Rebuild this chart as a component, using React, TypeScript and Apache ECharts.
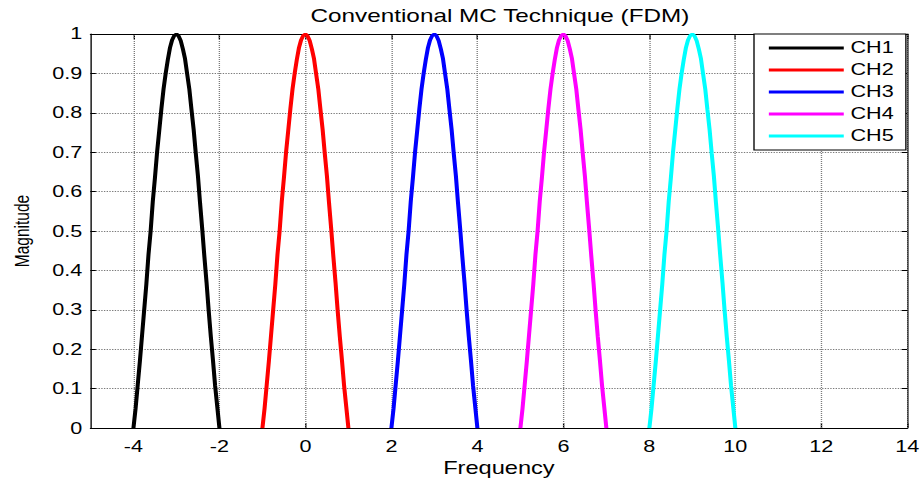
import React, { useEffect, useRef } from "react";
import * as echarts from "echarts";

// ---- data ----
const chartTitle = "Conventional MC Technique (FDM)";
const xAxisName = "Frequency";
const yAxisName = "Magnitude";
const channelNames = ["CH1", "CH2", "CH3", "CH4", "CH5"];
const channelColors = ["#000000", "#ff0000", "#0000ff", "#ff00ff", "#00ffff"];
const channelCenters = [-3, 0, 3, 6, 9];
// main-lobe profile (offset from channel centre -> magnitude)
const lobeOffsets = [
  -1.0, -0.95, -0.9, -0.85, -0.8, -0.75, -0.7, -0.65, -0.6, -0.55, -0.5,
  -0.45, -0.4, -0.35, -0.3, -0.25, -0.2, -0.15, -0.1, -0.05, 0,
  0.05, 0.1, 0.15, 0.2, 0.25, 0.3, 0.35, 0.4, 0.45, 0.5,
  0.55, 0.6, 0.65, 0.7, 0.75, 0.8, 0.85, 0.9, 0.95, 1.0,
];
const lobeMagnitudes = [
  0, 0.05, 0.11, 0.17, 0.235, 0.3, 0.365, 0.44, 0.5, 0.575, 0.635,
  0.7, 0.755, 0.81, 0.86, 0.9, 0.935, 0.965, 0.985, 0.996, 1,
  0.995, 0.983, 0.962, 0.937, 0.898, 0.86, 0.808, 0.758, 0.697, 0.64,
  0.57, 0.505, 0.435, 0.37, 0.298, 0.232, 0.172, 0.107, 0.054, 0,
];
const xTicks = [-4, -2, 0, 2, 4, 6, 8, 10, 12, 14];
const xMin = -5;
const xMax = 14;
const yMin = 0;
const yMax = 1;
const yStep = 0.1;

// ---- layout ----
const STRETCH = 1.35;
const FULL_W = 924;
const FULL_H = 482;
const W = FULL_W / STRETCH;
const FONT = "'Liberation Sans', Arial, Helvetica, sans-serif";

export default function App() {
  const ref = useRef<HTMLDivElement>(null);

  useEffect(() => {
    if (!ref.current) return;
    const chart = echarts.init(ref.current, undefined, { renderer: "svg" });

    const gridLine = { type: "dotted" as const, color: "#7a7a7a", width: 1 };

    const series: any[] = channelNames.map((name, ci) => ({
      name,
      type: "line",
      xAxisIndex: 0,
      yAxisIndex: 0,
      symbol: "none",
      z: 3,
      lineStyle: { width: 3, color: channelColors[ci] },
      itemStyle: { color: channelColors[ci] },
      data: lobeOffsets.map((o, i) => [channelCenters[ci] + o, lobeMagnitudes[i]]),
    }));
    // vertical dotted grid lines at the x ticks
    series.push({
      name: "__grid",
      type: "line",
      xAxisIndex: 0,
      yAxisIndex: 0,
      data: [],
      symbol: "none",
      z: 1,
      markLine: {
        silent: true,
        symbol: "none",
        z: 1,
        label: { show: false },
        lineStyle: gridLine,
        emphasis: { disabled: true },
        data: xTicks.map((v) => ({ xAxis: v })),
      },
    });

    chart.setOption({
      animation: false,
      backgroundColor: "#ffffff",
      title: {
        text: chartTitle,
        left: 230,
        top: 7,
        padding: 0,
        textStyle: { fontFamily: FONT, fontSize: 18, fontWeight: "normal", color: "#000" },
      },
      legend: {
        data: channelNames,
        orient: "vertical",
        left: 754 / STRETCH,
        top: 34,
        padding: [5, 9, 5, 11],
        icon: "rect",
        itemWidth: 55.5,
        itemHeight: 3,
        itemGap: 4,
        itemTextGap: 7,
        backgroundColor: "#ffffff",
        borderColor: "#000000",
        borderWidth: 1,
        borderRadius: 0,
        textStyle: { fontFamily: FONT, fontSize: 16, lineHeight: 18, color: "#000" },
        z: 10,
      },
      grid: {
        left: 90 / STRETCH,
        right: (FULL_W - 910) / STRETCH,
        top: 34,
        bottom: 46,
        containLabel: false,
      },
      xAxis: [
        {
          type: "value",
          position: "bottom",
          min: xMin,
          max: xMax,
          name: xAxisName,
          nameLocation: "middle",
          nameGap: 24,
          nameTextStyle: { fontFamily: FONT, fontSize: 17.5, color: "#000" },
          axisLine: { show: true, onZero: false, lineStyle: { color: "#000", width: 1 } },
          axisTick: { show: true, inside: true, length: 5, customValues: xTicks, lineStyle: { color: "#000" } },
          axisLabel: { customValues: xTicks, margin: 10, fontFamily: FONT, fontSize: 16, color: "#000" },
          splitLine: { show: false },
        },
        {
          type: "value",
          position: "top",
          min: xMin,
          max: xMax,
          axisLine: { show: true, onZero: false, lineStyle: { color: "#000", width: 1 } },
          axisTick: { show: true, inside: true, length: 5, customValues: xTicks, lineStyle: { color: "#000" } },
          axisLabel: { show: false },
          splitLine: { show: false },
        },
      ],
      yAxis: [
        {
          type: "value",
          position: "left",
          min: yMin,
          max: yMax,
          interval: yStep,
          name: yAxisName,
          nameLocation: "middle",
          nameGap: 43,
          nameTextStyle: { fontFamily: FONT, fontSize: 15.5, color: "#000" },
          axisLine: { show: true, onZero: false, lineStyle: { color: "#000", width: 1 } },
          axisTick: { show: true, inside: true, length: 4, lineStyle: { color: "#000" } },
          axisLabel: { margin: 6, fontFamily: FONT, fontSize: 16, color: "#000" },
          splitLine: { show: true, lineStyle: gridLine },
        },
        {
          type: "value",
          position: "right",
          min: yMin,
          max: yMax,
          interval: yStep,
          axisLine: { show: true, onZero: false, lineStyle: { color: "#000", width: 1 } },
          axisTick: { show: true, inside: true, length: 4, lineStyle: { color: "#000" } },
          axisLabel: { show: false },
          splitLine: { show: false },
        },
      ],
      series,
    });

    return () => chart.dispose();
  }, []);

  return (
    <div
      style={{
        position: "fixed",
        left: 0,
        top: 0,
        width: FULL_W,
        height: FULL_H,
        overflow: "hidden",
        background: "#ffffff",
      }}
    >
      <div
        ref={ref}
        style={{
          width: W,
          height: FULL_H,
          transform: `scaleX(${STRETCH})`,
          transformOrigin: "0 0",
        }}
      />
    </div>
  );
}
